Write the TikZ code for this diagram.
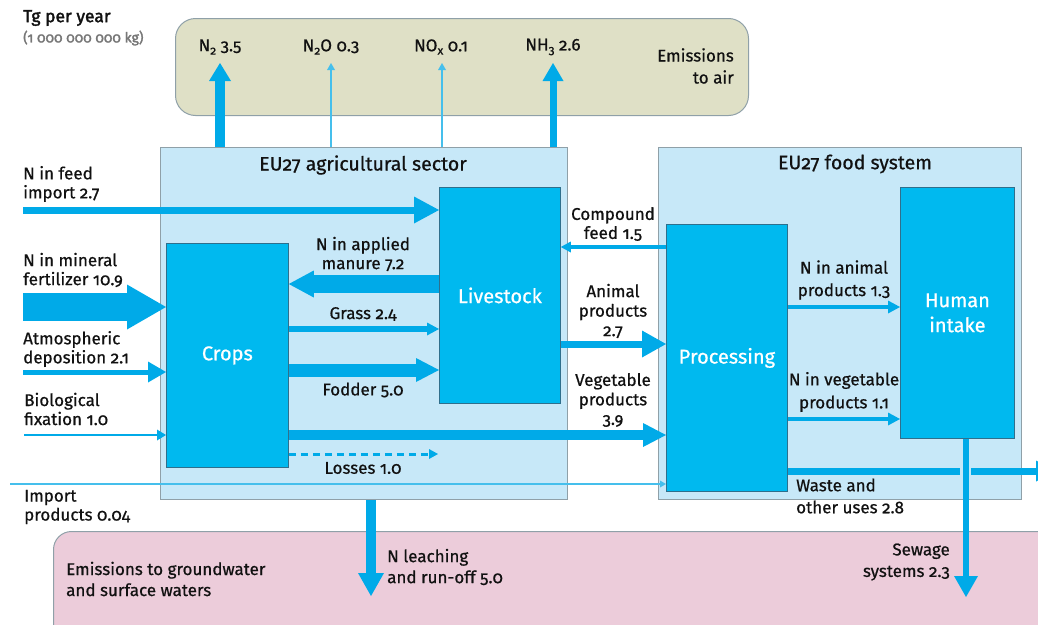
\documentclass[tikz,border=0pt]{standalone}
\usepackage{fontspec}
\setmainfont[Numbers=OldStyle, FakeBold=0.7]{Fira Sans}
\newfontfamily\headfont[Numbers=OldStyle, FakeBold=2]{Fira Sans}
\usetikzlibrary{arrows.meta,calc}
\definecolor{airfill}{HTML}{DFE0C6}
\definecolor{waterfill}{HTML}{ECCCDA}
\definecolor{sysfill}{HTML}{C7E8F8}
\definecolor{boxfill}{HTML}{00B9EF}
\definecolor{boxline}{HTML}{2F6F8C}
\definecolor{frameline}{HTML}{8FA0A8}
\definecolor{arr}{HTML}{00AAE8}
\definecolor{thinarr}{HTML}{45BFEC}
\definecolor{txt}{HTML}{111111}
\definecolor{graytxt}{HTML}{777777}
\newcommand\subs[1]{\raisebox{-0.2em}{\fontsize{12}{12}\selectfont #1}}
\tikzset{
  lbl/.style={font=\fontsize{17}{19}\selectfont, text=txt, inner sep=0pt, align=#1},
  lbl/.default=center,
  procbox/.style={draw=boxline, line width=0.8pt, fill=boxfill, text=white,
    font=\fontsize{20}{25}\selectfont, align=center, anchor=north west, inner sep=0pt},
  sysbox/.style={draw=frameline, line width=1pt, fill=sysfill, anchor=north west, inner sep=0pt},
  flow/.style n args={3}{draw=arr, line width=#1, -{Triangle[width=#2,length=#3,line width=0pt]}},
  thinflow/.style={draw=thinarr, line width=1.3pt, -{Triangle[width=8pt,length=7pt,line width=0pt]}},
}
\begin{document}
\begin{tikzpicture}[x=1pt,y=-1pt]
\clip (0,0) rectangle (1038,624);
% frames
\node[sysbox, fill=airfill, rounded corners=20pt, minimum width=573pt, minimum height=97pt] (air) at (175,18) {};
\node[sysbox, fill=waterfill, rounded corners=18pt, minimum width=1020pt, minimum height=130pt] (water) at (53,531) {};
\node[sysbox, minimum width=407pt, minimum height=352pt] (agri) at (160,147) {};
\node[sysbox, minimum width=363pt, minimum height=352pt] (food) at (658,147) {};
% process boxes
\node[procbox, minimum width=122pt, minimum height=224pt] (crops) at (166,243) {Crops};
\node[procbox, minimum width=121pt, minimum height=216pt] (live) at (439,187) {Livestock};
\node[procbox, minimum width=121pt, minimum height=267pt] (proc) at (666,224) {Processing};
\node[procbox, minimum width=114pt, minimum height=251pt] (human) at (900,187) {Human\\intake};
% titles
\node[lbl, font=\headfont\fontsize{17.5}{20}\selectfont, anchor=west] (unit) at (23,18) {Tg per year};
\node[lbl, font=\headfont\fontsize{14}{16}\selectfont, text=graytxt, anchor=west] (unit2) at (23,38) {(1 000 000 000 kg)};
\node[lbl, font=\fontsize{19.5}{22}\selectfont] (agrititle) at (363,165) {EU27 agricultural sector};
\node[lbl, font=\fontsize{19.5}{22}\selectfont] (foodtitle) at (855,164) {EU27 food system};
\node[lbl=right, anchor=east, font=\fontsize{17}{22}\selectfont] (airtitle) at (734,66) {Emissions\\to air};
\node[lbl=left, anchor=west, font=\fontsize{17}{21}\selectfont] (watertitle) at (66,579) {Emissions to groundwater\\and surface waters};
% air labels
\node[lbl] (n2lab) at (220,47) {N\subs{2} 3.5};
\node[lbl] (n2olab) at (331,47) {N\subs{2}O 0.3};
\node[lbl] (noxlab) at (441,47) {NO\subs{x} 0.1};
\node[lbl] (nh3lab) at (553,47) {NH\subs{3} 2.6};
% input labels
\node[lbl=left, anchor=west] (feedlab) at (23,184) {N in feed\\import 2.7};
\node[lbl=left, anchor=west] (minlab) at (23,270) {N in mineral\\fertilizer 10.9};
\node[lbl=left, anchor=west] (atmlab) at (23,349) {Atmospheric\\deposition 2.1};
\node[lbl=left, anchor=west] (biolab) at (24,409) {Biological\\fixation 1.0};
\node[lbl=left, anchor=west] (implab) at (24,507) {Import\\products 0.04};
% internal labels
\node[lbl] (manlab) at (363,254) {N in applied\\manure 7.2};
\node[lbl] (grasslab) at (363,314) {Grass 2.4};
\node[lbl] (fodlab) at (363,390) {Fodder 5.0};
\node[lbl] (loslab) at (363,468) {Losses 1.0};
\node[lbl] (cflab) at (613,224) {Compound\\feed 1.5};
\node[lbl, font=\fontsize{17}{19.5}\selectfont] (anlab) at (613,311) {Animal\\products\\2.7};
\node[lbl, font=\fontsize{17}{19.5}\selectfont] (veglab) at (613,400) {Vegetable\\products\\3.9};
\node[lbl, font=\fontsize{17}{22.5}\selectfont] (nanlab) at (844,280) {N in animal\\products 1.3};
\node[lbl, font=\fontsize{17}{23}\selectfont] (nveglab) at (844,392) {N in vegetable\\products 1.1};
\node[lbl=left, anchor=west, font=\fontsize{17}{22}\selectfont] (wastelab) at (796,496) {Waste and\\other uses 2.8};
\node[lbl=right, anchor=east, font=\fontsize{17}{21.5}\selectfont] (sewlab) at (950,562) {Sewage\\systems 2.3};
\node[lbl=left, anchor=west, font=\fontsize{17}{21}\selectfont] (leachlab) at (387,567) {N leaching\\and run-off 5.0};
% coordinates
\coordinate (feedsrc) at (23,210);
\coordinate (minsrc) at (23,307);
\coordinate (atmsrc) at (23,372);
\coordinate (biosrc) at (24,435);
\coordinate (impsrc) at (10,484);
\coordinate (yman) at (0,284);
\coordinate (ygrass) at (0,329);
\coordinate (yfod) at (0,370);
\coordinate (yveg) at (0,435);
\coordinate (lostip) at (438,454);
\coordinate (ycf) at (0,247);
\coordinate (yan) at (0,344);
\coordinate (yna) at (0,307);
\coordinate (ynv) at (0,419);
\coordinate (ywaste) at (0,471);
\coordinate (gapa) at (960,471);
\coordinate (gapb) at (971,471);
\coordinate (wasteend) at (1056,471);
\coordinate (sewtip) at (966,597);
\coordinate (leachtip) at (371,596);
\coordinate (n2tip) at (220,63);
\coordinate (n2otip) at (331,63);
\coordinate (noxtip) at (442,63);
\coordinate (nh3tip) at (553,63);
% emissions to air
\draw[flow={10pt}{22pt}{18pt}] (agri.north -| n2tip) -- (n2tip);
\draw[thinflow] (agri.north -| n2otip) -- (n2otip);
\draw[thinflow] (agri.north -| noxtip) -- (noxtip);
\draw[flow={7pt}{21pt}{18pt}] (agri.north -| nh3tip) -- (nh3tip);
% inputs
\draw[flow={7pt}{27pt}{25pt}] (feedsrc) -- (feedsrc -| live.west);
\draw[flow={28pt}{45pt}{39pt}] (minsrc) -- (minsrc -| crops.west);
\draw[flow={5pt}{21pt}{18pt}] (atmsrc) -- (atmsrc -| crops.west);
\draw[flow={2pt}{11pt}{9pt}] (biosrc) -- (biosrc -| crops.west);
\draw[draw=thinarr, line width=1.1pt, -{Triangle[width=7pt,length=6pt,line width=0pt]}] (impsrc) -- (impsrc -| proc.west);
% agricultural flows
\draw[flow={18pt}{27pt}{25pt}] (live.west |- yman) -- (crops.east |- yman);
\draw[flow={6pt}{13pt}{12pt}] (crops.east |- ygrass) -- (live.west |- ygrass);
\draw[flow={13pt}{24pt}{23pt}] (crops.east |- yfod) -- (live.west |- yfod);
\draw[flow={3pt}{10pt}{9pt}, dash pattern=on 7pt off 5pt] (crops.east |- lostip) -- (lostip);
\draw[flow={10pt}{24pt}{23pt}] (crops.east |- yveg) -- (proc.west |- yveg);
\draw[flow={4pt}{11pt}{10pt}] (proc.west |- ycf) -- (live.east |- ycf);
\draw[flow={7pt}{27pt}{24pt}] (live.east |- yan) -- (proc.west |- yan);
% food flows
\draw[flow={3.5pt}{13pt}{12pt}] (proc.east |- yna) -- (human.west |- yna);
\draw[flow={3.5pt}{13pt}{12pt}] (proc.east |- ynv) -- (human.west |- ynv);
\draw[draw=arr, line width=7pt] (proc.east |- ywaste) -- (gapa);
\draw[flow={7pt}{21pt}{20pt}] (gapb) -- (wasteend);
\draw[flow={6pt}{24pt}{21pt}] (human.south -| sewtip) -- (sewtip);
\draw[flow={10pt}{26pt}{23pt}] (agri.south -| leachtip) -- (leachtip);
\end{tikzpicture}
\end{document}
